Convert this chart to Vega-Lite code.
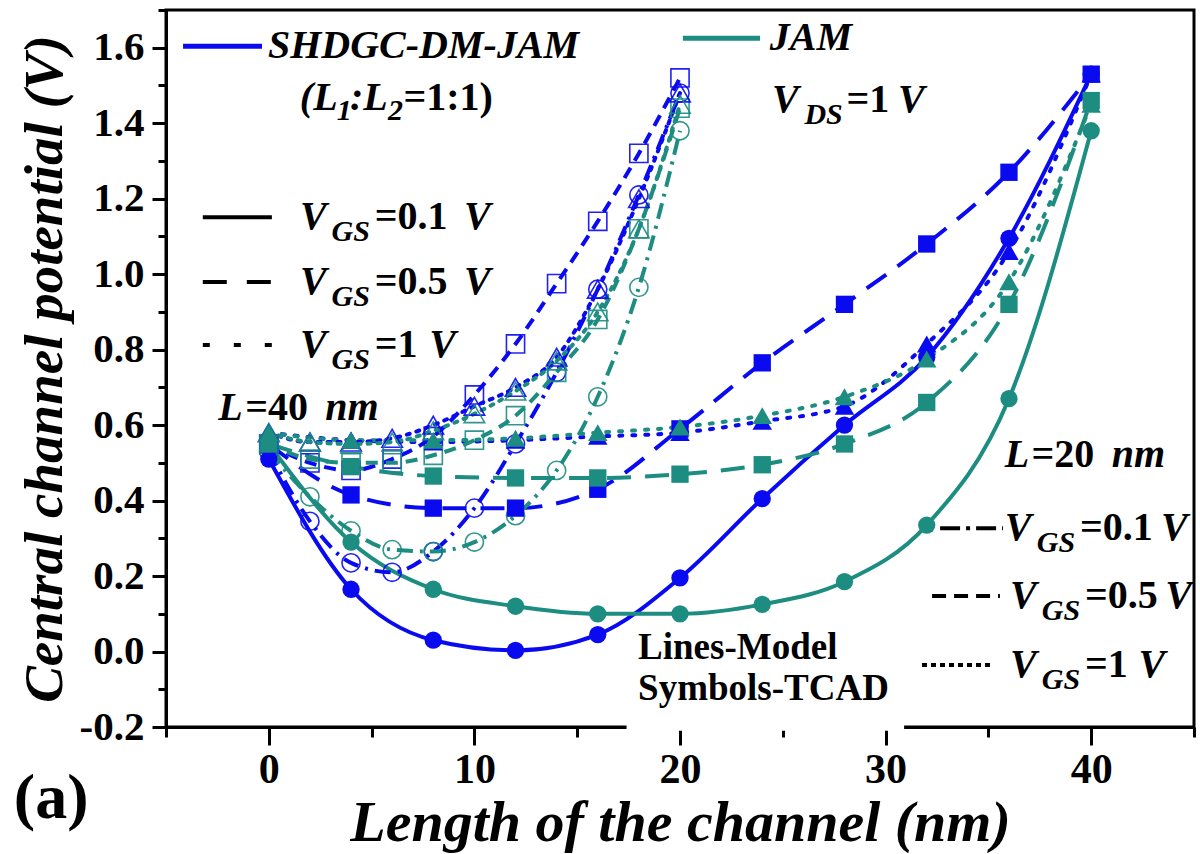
{
"$schema": "https://vega.github.io/schema/vega-lite/v6.json",
"width": 1028, "height": 717,
"autosize": {"type": "none"},
"padding": {"left": 166, "top": 10, "right": 6, "bottom": 127},
"background": "white",
"config": {"view": {"stroke": "#000", "strokeWidth": 3}, "font": "Liberation Serif"},
"datasets": {
"pts": [
{"x":0,"v":0.51,"d":"S","L":40,"g":0.1},{"x":4,"v":0.165,"d":"S","L":40,"g":0.1},{"x":8,"v":0.03,"d":"S","L":40,"g":0.1},{"x":12,"v":0.003,"d":"S","L":40,"g":0.1},{"x":16,"v":0.045,"d":"S","L":40,"g":0.1},{"x":20,"v":0.195,"d":"S","L":40,"g":0.1},{"x":24,"v":0.405,"d":"S","L":40,"g":0.1},{"x":28,"v":0.6,"d":"S","L":40,"g":0.1},{"x":32,"v":0.78,"d":"S","L":40,"g":0.1},{"x":36,"v":1.095,"d":"S","L":40,"g":0.1},{"x":40,"v":1.53,"d":"S","L":40,"g":0.1},
{"x":0,"v":0.55,"d":"J","L":40,"g":0.1},{"x":4,"v":0.29,"d":"J","L":40,"g":0.1},{"x":8,"v":0.165,"d":"J","L":40,"g":0.1},{"x":12,"v":0.12,"d":"J","L":40,"g":0.1},{"x":16,"v":0.1,"d":"J","L":40,"g":0.1},{"x":20,"v":0.1,"d":"J","L":40,"g":0.1},{"x":24,"v":0.125,"d":"J","L":40,"g":0.1},{"x":28,"v":0.185,"d":"J","L":40,"g":0.1},{"x":32,"v":0.335,"d":"J","L":40,"g":0.1},{"x":36,"v":0.67,"d":"J","L":40,"g":0.1},{"x":40,"v":1.38,"d":"J","L":40,"g":0.1},
{"x":0,"v":0.55,"d":"S","L":40,"g":0.5},{"x":4,"v":0.415,"d":"S","L":40,"g":0.5},{"x":8,"v":0.38,"d":"S","L":40,"g":0.5},{"x":12,"v":0.38,"d":"S","L":40,"g":0.5},{"x":16,"v":0.43,"d":"S","L":40,"g":0.5},{"x":20,"v":0.59,"d":"S","L":40,"g":0.5},{"x":24,"v":0.765,"d":"S","L":40,"g":0.5},{"x":28,"v":0.92,"d":"S","L":40,"g":0.5},{"x":32,"v":1.08,"d":"S","L":40,"g":0.5},{"x":36,"v":1.27,"d":"S","L":40,"g":0.5},{"x":40,"v":1.53,"d":"S","L":40,"g":0.5},
{"x":0,"v":0.55,"d":"J","L":40,"g":0.5},{"x":4,"v":0.49,"d":"J","L":40,"g":0.5},{"x":8,"v":0.465,"d":"J","L":40,"g":0.5},{"x":12,"v":0.46,"d":"J","L":40,"g":0.5},{"x":16,"v":0.46,"d":"J","L":40,"g":0.5},{"x":20,"v":0.47,"d":"J","L":40,"g":0.5},{"x":24,"v":0.495,"d":"J","L":40,"g":0.5},{"x":28,"v":0.55,"d":"J","L":40,"g":0.5},{"x":32,"v":0.66,"d":"J","L":40,"g":0.5},{"x":36,"v":0.92,"d":"J","L":40,"g":0.5},{"x":40,"v":1.46,"d":"J","L":40,"g":0.5},
{"x":0,"v":0.58,"d":"S","L":40,"g":1},{"x":4,"v":0.56,"d":"S","L":40,"g":1},{"x":8,"v":0.555,"d":"S","L":40,"g":1},{"x":12,"v":0.56,"d":"S","L":40,"g":1},{"x":16,"v":0.57,"d":"S","L":40,"g":1},{"x":20,"v":0.58,"d":"S","L":40,"g":1},{"x":24,"v":0.61,"d":"S","L":40,"g":1},{"x":28,"v":0.65,"d":"S","L":40,"g":1},{"x":32,"v":0.815,"d":"S","L":40,"g":1},{"x":36,"v":1.06,"d":"S","L":40,"g":1},{"x":40,"v":1.53,"d":"S","L":40,"g":1},
{"x":0,"v":0.58,"d":"J","L":40,"g":1},{"x":4,"v":0.56,"d":"J","L":40,"g":1},{"x":8,"v":0.56,"d":"J","L":40,"g":1},{"x":12,"v":0.565,"d":"J","L":40,"g":1},{"x":16,"v":0.58,"d":"J","L":40,"g":1},{"x":20,"v":0.595,"d":"J","L":40,"g":1},{"x":24,"v":0.625,"d":"J","L":40,"g":1},{"x":28,"v":0.675,"d":"J","L":40,"g":1},{"x":32,"v":0.775,"d":"J","L":40,"g":1},{"x":36,"v":0.98,"d":"J","L":40,"g":1},{"x":40,"v":1.45,"d":"J","L":40,"g":1},
{"x":0,"v":0.53,"d":"S","L":20,"g":0.1},{"x":2,"v":0.345,"d":"S","L":20,"g":0.1},{"x":4,"v":0.235,"d":"S","L":20,"g":0.1},{"x":6,"v":0.21,"d":"S","L":20,"g":0.1},{"x":8,"v":0.265,"d":"S","L":20,"g":0.1},{"x":10,"v":0.38,"d":"S","L":20,"g":0.1},{"x":12,"v":0.55,"d":"S","L":20,"g":0.1},{"x":14,"v":0.74,"d":"S","L":20,"g":0.1},{"x":16,"v":0.96,"d":"S","L":20,"g":0.1},{"x":18,"v":1.21,"d":"S","L":20,"g":0.1},{"x":20,"v":1.48,"d":"S","L":20,"g":0.1},
{"x":0,"v":0.53,"d":"J","L":20,"g":0.1},{"x":2,"v":0.41,"d":"J","L":20,"g":0.1},{"x":4,"v":0.32,"d":"J","L":20,"g":0.1},{"x":6,"v":0.27,"d":"J","L":20,"g":0.1},{"x":8,"v":0.265,"d":"J","L":20,"g":0.1},{"x":10,"v":0.29,"d":"J","L":20,"g":0.1},{"x":12,"v":0.36,"d":"J","L":20,"g":0.1},{"x":14,"v":0.48,"d":"J","L":20,"g":0.1},{"x":16,"v":0.675,"d":"J","L":20,"g":0.1},{"x":18,"v":0.965,"d":"J","L":20,"g":0.1},{"x":20,"v":1.38,"d":"J","L":20,"g":0.1},
{"x":0,"v":0.55,"d":"S","L":20,"g":0.5},{"x":2,"v":0.5,"d":"S","L":20,"g":0.5},{"x":4,"v":0.48,"d":"S","L":20,"g":0.5},{"x":6,"v":0.51,"d":"S","L":20,"g":0.5},{"x":8,"v":0.57,"d":"S","L":20,"g":0.5},{"x":10,"v":0.68,"d":"S","L":20,"g":0.5},{"x":12,"v":0.815,"d":"S","L":20,"g":0.5},{"x":14,"v":0.975,"d":"S","L":20,"g":0.5},{"x":16,"v":1.14,"d":"S","L":20,"g":0.5},{"x":18,"v":1.32,"d":"S","L":20,"g":0.5},{"x":20,"v":1.52,"d":"S","L":20,"g":0.5},
{"x":0,"v":0.55,"d":"J","L":20,"g":0.5},{"x":2,"v":0.51,"d":"J","L":20,"g":0.5},{"x":4,"v":0.5,"d":"J","L":20,"g":0.5},{"x":6,"v":0.5,"d":"J","L":20,"g":0.5},{"x":8,"v":0.52,"d":"J","L":20,"g":0.5},{"x":10,"v":0.56,"d":"J","L":20,"g":0.5},{"x":12,"v":0.625,"d":"J","L":20,"g":0.5},{"x":14,"v":0.74,"d":"J","L":20,"g":0.5},{"x":16,"v":0.88,"d":"J","L":20,"g":0.5},{"x":18,"v":1.12,"d":"J","L":20,"g":0.5},{"x":20,"v":1.44,"d":"J","L":20,"g":0.5},
{"x":0,"v":0.58,"d":"S","L":20,"g":1},{"x":2,"v":0.555,"d":"S","L":20,"g":1},{"x":4,"v":0.555,"d":"S","L":20,"g":1},{"x":6,"v":0.565,"d":"S","L":20,"g":1},{"x":8,"v":0.6,"d":"S","L":20,"g":1},{"x":10,"v":0.65,"d":"S","L":20,"g":1},{"x":12,"v":0.7,"d":"S","L":20,"g":1},{"x":14,"v":0.78,"d":"S","L":20,"g":1},{"x":16,"v":0.96,"d":"S","L":20,"g":1},{"x":18,"v":1.2,"d":"S","L":20,"g":1},{"x":20,"v":1.48,"d":"S","L":20,"g":1},
{"x":0,"v":0.58,"d":"J","L":20,"g":1},{"x":2,"v":0.555,"d":"J","L":20,"g":1},{"x":4,"v":0.55,"d":"J","L":20,"g":1},{"x":6,"v":0.555,"d":"J","L":20,"g":1},{"x":8,"v":0.585,"d":"J","L":20,"g":1},{"x":10,"v":0.63,"d":"J","L":20,"g":1},{"x":12,"v":0.69,"d":"J","L":20,"g":1},{"x":14,"v":0.77,"d":"J","L":20,"g":1},{"x":16,"v":0.9,"d":"J","L":20,"g":1},{"x":18,"v":1.12,"d":"J","L":20,"g":1},{"x":20,"v":1.45,"d":"J","L":20,"g":1}
],
"lg": [
{"x":-4.17,"x2":-0.33,"y":1.604,"k":"blue"},
{"x":20.14,"x2":23.89,"y":1.625,"k":"teal"},
{"x":-3.21,"x2":0.15,"y":1.151,"k":"solid"},
{"x":-3.21,"x2":0.15,"y":0.979,"k":"dash"},
{"x":-3.21,"x2":0.15,"y":0.812,"k":"dot"},
{"x":32.65,"x2":35.71,"y":0.327,"k":"dashdot"},
{"x":32.26,"x2":35.56,"y":0.147,"k":"sdash"},
{"x":31.77,"x2":35.08,"y":-0.036,"k":"sdot"}
],
"box": [{"x":17.4,"x2":30.9,"y":0.075,"y2":-0.21}],
"tx": [
{"x":-0.04,"y":1.604,"t":"SHDGC-DM-JAM","f":"bi"},
{"x":1.51,"y":1.467,"t":"(L","f":"bi"},
{"x":3.3,"y":1.432,"t":"1","f":"sub"},
{"x":3.95,"y":1.467,"t":":L","f":"bi"},
{"x":5.8,"y":1.432,"t":"2","f":"sub"},
{"x":6.55,"y":1.467,"t":"=1:1)","f":"b"},
{"x":24.37,"y":1.625,"t":"JAM","f":"bi"},
{"x":24.47,"y":1.461,"t":"V","f":"bi"},
{"x":26.05,"y":1.421,"t":"DS","f":"sub"},
{"x":28.1,"y":1.461,"t":"=1","f":"b"},
{"x":30.6,"y":1.461,"t":"V","f":"bi"},
{"x":1.52,"y":1.151,"t":"V","f":"bi"},
{"x":3.05,"y":1.111,"t":"GS","f":"sub"},
{"x":5.15,"y":1.151,"t":"=0.1","f":"b"},
{"x":9.5,"y":1.151,"t":"V","f":"bi"},
{"x":1.52,"y":0.979,"t":"V","f":"bi"},
{"x":3.05,"y":0.939,"t":"GS","f":"sub"},
{"x":5.15,"y":0.979,"t":"=0.5","f":"b"},
{"x":9.5,"y":0.979,"t":"V","f":"bi"},
{"x":1.52,"y":0.812,"t":"V","f":"bi"},
{"x":3.05,"y":0.772,"t":"GS","f":"sub"},
{"x":5.15,"y":0.812,"t":"=1","f":"b"},
{"x":7.8,"y":0.812,"t":"V","f":"bi"},
{"x":-2.46,"y":0.645,"t":"L","f":"bi"},
{"x":-1.15,"y":0.645,"t":"=40","f":"b"},
{"x":2.75,"y":0.645,"t":"nm","f":"bi"},
{"x":35.8,"y":0.521,"t":"L","f":"bi"},
{"x":37.1,"y":0.521,"t":"=20","f":"b"},
{"x":41.0,"y":0.521,"t":"nm","f":"bi"},
{"x":35.8,"y":0.327,"t":"V","f":"bi"},
{"x":37.35,"y":0.287,"t":"GS","f":"sub"},
{"x":39.45,"y":0.327,"t":"=0.1","f":"b"},
{"x":43.4,"y":0.327,"t":"V","f":"bi"},
{"x":36.05,"y":0.147,"t":"V","f":"bi"},
{"x":37.6,"y":0.107,"t":"GS","f":"sub"},
{"x":39.7,"y":0.147,"t":"=0.5","f":"b"},
{"x":43.6,"y":0.147,"t":"V","f":"bi"},
{"x":36.05,"y":-0.036,"t":"V","f":"bi"},
{"x":37.6,"y":-0.076,"t":"GS","f":"sub"},
{"x":39.7,"y":-0.036,"t":"=1","f":"b"},
{"x":42.3,"y":-0.036,"t":"V","f":"bi"},
{"x":17.96,"y":0.01,"t":"Lines-Model","f":"bs"},
{"x":17.96,"y":-0.1,"t":"Symbols-TCAD","f":"bs"},
{"x":-12.4,"y":-0.39,"t":"(a)","f":"a"}
]
},
"layer": [
{"data":{"name":"pts"},"transform":[{"filter":"datum.L==40 && datum.g==0.1"}],
 "mark":{"type":"line","interpolate":"monotone","strokeWidth":4},
 "encoding":{
  "x":{"field":"x","type":"quantitative","scale":{"domain":[-5,45],"nice":false,"zero":false},
   "axis":{"orient":"bottom","values":[0,10,20,30,40],"format":"d","tickSize":18,"tickWidth":3,"tickColor":"#000","domainColor":"#000","domainWidth":3,"grid":false,
    "labelFont":"Liberation Serif","labelFontWeight":"bold","labelFontSize":42,"labelColor":"#000","labelPadding":4,
    "title":"Length of the channel (nm)","titleFont":"Liberation Serif","titleFontWeight":"bold","titleFontStyle":"italic","titleFontSize":58,"titleColor":"#000","titlePadding":4}},
  "y":{"field":"v","type":"quantitative","scale":{"domain":[-0.2,1.7],"nice":false,"zero":false},
   "axis":{"orient":"left","values":[-0.2,0,0.2,0.4,0.6,0.8,1.0,1.2,1.4,1.6],"labelExpr":"replace(format(datum.value,'.1f'),'\u2212','-')","tickSize":14,"tickWidth":3,"tickColor":"#000","domainColor":"#000","domainWidth":3,"grid":false,
    "labelFont":"Liberation Serif","labelFontWeight":"bold","labelFontSize":41,"labelColor":"#000","labelPadding":8,
    "title":"Central channel potential (V)","titleFont":"Liberation Serif","titleFontWeight":"bold","titleFontStyle":"italic","titleFontSize":55,"titleColor":"#000","titlePadding":6}},
  "color":{"field":"d","type":"nominal","scale":{"domain":["S","J"],"range":["#0a0af0","#1d8c81"]},"legend":null},
  "detail":{"field":"d"}}},
{"data":{"name":"pts"},"transform":[{"filter":"datum.L==40 && datum.g==0.5"}],
 "mark":{"type":"line","interpolate":"monotone","strokeWidth":4,"strokeDash":[24,14]},
 "encoding":{
  "x":{"field":"x","type":"quantitative","scale":{"domain":[-5,45],"nice":false,"zero":false},
   "axis":{"orient":"bottom","values":[-5,5,15,25,35,45],"tickSize":10,"tickWidth":3,"tickColor":"#000","labels":false,"domain":false,"grid":false,"title":null}},
  "y":{"field":"v","type":"quantitative","scale":{"domain":[-0.2,1.7],"nice":false,"zero":false},
   "axis":{"orient":"left","values":[-0.1,0.1,0.3,0.5,0.7,0.9,1.1,1.3,1.5,1.7],"tickSize":8,"tickWidth":3,"tickColor":"#000","labels":false,"domain":false,"grid":false,"title":null}},
  "color":{"field":"d","type":"nominal","scale":{"domain":["S","J"],"range":["#0a0af0","#1d8c81"]},"legend":null},
  "detail":{"field":"d"}}},
{"data":{"name":"pts"},"transform":[{"filter":"datum.L==40 && datum.g==1"}],
 "mark":{"type":"line","interpolate":"monotone","strokeWidth":4,"strokeDash":[3,10],"strokeCap":"round"},
 "encoding":{"x":{"field":"x","type":"quantitative","axis":null},"y":{"field":"v","type":"quantitative","axis":null},
  "color":{"field":"d","type":"nominal","legend":null},"detail":{"field":"d"}}},
{"data":{"name":"pts"},"transform":[{"filter":"datum.L==20 && datum.g==0.1"}],
 "mark":{"type":"line","interpolate":"monotone","strokeWidth":4,"strokeDash":[16,7,3,7]},
 "encoding":{"x":{"field":"x","type":"quantitative","axis":null},"y":{"field":"v","type":"quantitative","axis":null},
  "color":{"field":"d","type":"nominal","legend":null},"detail":{"field":"d"}}},
{"data":{"name":"pts"},"transform":[{"filter":"datum.L==20 && datum.g==0.5"}],
 "mark":{"type":"line","interpolate":"monotone","strokeWidth":4,"strokeDash":[12,8]},
 "encoding":{"x":{"field":"x","type":"quantitative","axis":null},"y":{"field":"v","type":"quantitative","axis":null},
  "color":{"field":"d","type":"nominal","legend":null},"detail":{"field":"d"}}},
{"data":{"name":"pts"},"transform":[{"filter":"datum.L==20 && datum.g==1"}],
 "mark":{"type":"line","interpolate":"monotone","strokeWidth":4,"strokeDash":[3,7],"strokeCap":"round"},
 "encoding":{"x":{"field":"x","type":"quantitative","axis":null},"y":{"field":"v","type":"quantitative","axis":null},
  "color":{"field":"d","type":"nominal","legend":null},"detail":{"field":"d"}}},
{"data":{"name":"pts"},"transform":[{"filter":"datum.L==20 && datum.g==0.1"}],
 "mark":{"type":"point","shape":"circle","filled":false,"size":330,"strokeWidth":1.6,"opacity":0.9},
 "encoding":{"x":{"field":"x","type":"quantitative","axis":null},"y":{"field":"v","type":"quantitative","axis":null},
  "color":{"field":"d","type":"nominal","legend":null}}},
{"data":{"name":"pts"},"transform":[{"filter":"datum.L==20 && datum.g==0.5"}],
 "mark":{"type":"point","shape":"square","filled":false,"size":330,"strokeWidth":1.6,"opacity":0.9},
 "encoding":{"x":{"field":"x","type":"quantitative","axis":null},"y":{"field":"v","type":"quantitative","axis":null},
  "color":{"field":"d","type":"nominal","legend":null}}},
{"data":{"name":"pts"},"transform":[{"filter":"datum.L==20 && datum.g==1"}],
 "mark":{"type":"point","shape":"triangle-up","filled":false,"size":420,"strokeWidth":1.6,"opacity":0.9},
 "encoding":{"x":{"field":"x","type":"quantitative","axis":null},"y":{"field":"v","type":"quantitative","axis":null},
  "color":{"field":"d","type":"nominal","legend":null}}},
{"data":{"name":"pts"},"transform":[{"filter":"datum.L==40 && datum.g==0.1"}],
 "mark":{"type":"point","shape":"circle","filled":true,"size":300,"opacity":1},
 "encoding":{"x":{"field":"x","type":"quantitative","axis":null},"y":{"field":"v","type":"quantitative","axis":null},
  "color":{"field":"d","type":"nominal","legend":null}}},
{"data":{"name":"pts"},"transform":[{"filter":"datum.L==40 && datum.g==0.5"}],
 "mark":{"type":"point","shape":"square","filled":true,"size":300,"opacity":1},
 "encoding":{"x":{"field":"x","type":"quantitative","axis":null},"y":{"field":"v","type":"quantitative","axis":null},
  "color":{"field":"d","type":"nominal","legend":null}}},
{"data":{"name":"pts"},"transform":[{"filter":"datum.L==40 && datum.g==1"}],
 "mark":{"type":"point","shape":"triangle-up","filled":true,"size":380,"opacity":1},
 "encoding":{"x":{"field":"x","type":"quantitative","axis":null},"y":{"field":"v","type":"quantitative","axis":null},
  "color":{"field":"d","type":"nominal","legend":null}}},
{"data":{"name":"box"},"mark":{"type":"rect","fill":"white"},
 "encoding":{"x":{"field":"x","type":"quantitative","axis":null},"x2":{"field":"x2"},"y":{"field":"y","type":"quantitative","axis":null},"y2":{"field":"y2"}}},
{"data":{"name":"lg"},"transform":[{"filter":"datum.k=='blue'"}],"mark":{"type":"rule","stroke":"#0a0af0","strokeWidth":5},
 "encoding":{"x":{"field":"x","type":"quantitative","axis":null},"x2":{"field":"x2"},"y":{"field":"y","type":"quantitative","axis":null}}},
{"data":{"name":"lg"},"transform":[{"filter":"datum.k=='teal'"}],"mark":{"type":"rule","stroke":"#1d8c81","strokeWidth":5},
 "encoding":{"x":{"field":"x","type":"quantitative","axis":null},"x2":{"field":"x2"},"y":{"field":"y","type":"quantitative","axis":null}}},
{"data":{"name":"lg"},"transform":[{"filter":"datum.k=='solid'"}],"mark":{"type":"rule","stroke":"#000","strokeWidth":4},
 "encoding":{"x":{"field":"x","type":"quantitative","axis":null},"x2":{"field":"x2"},"y":{"field":"y","type":"quantitative","axis":null}}},
{"data":{"name":"lg"},"transform":[{"filter":"datum.k=='dash'"}],"mark":{"type":"rule","stroke":"#000","strokeWidth":4,"strokeDash":[24,20]},
 "encoding":{"x":{"field":"x","type":"quantitative","axis":null},"x2":{"field":"x2"},"y":{"field":"y","type":"quantitative","axis":null}}},
{"data":{"name":"lg"},"transform":[{"filter":"datum.k=='dot'"}],"mark":{"type":"rule","stroke":"#000","strokeWidth":4,"strokeDash":[7,24]},
 "encoding":{"x":{"field":"x","type":"quantitative","axis":null},"x2":{"field":"x2"},"y":{"field":"y","type":"quantitative","axis":null}}},
{"data":{"name":"lg"},"transform":[{"filter":"datum.k=='dashdot'"}],"mark":{"type":"rule","stroke":"#000","strokeWidth":4,"strokeDash":[20,6,4,6]},
 "encoding":{"x":{"field":"x","type":"quantitative","axis":null},"x2":{"field":"x2"},"y":{"field":"y","type":"quantitative","axis":null}}},
{"data":{"name":"lg"},"transform":[{"filter":"datum.k=='sdash'"}],"mark":{"type":"rule","stroke":"#000","strokeWidth":4,"strokeDash":[14,8]},
 "encoding":{"x":{"field":"x","type":"quantitative","axis":null},"x2":{"field":"x2"},"y":{"field":"y","type":"quantitative","axis":null}}},
{"data":{"name":"lg"},"transform":[{"filter":"datum.k=='sdot'"}],"mark":{"type":"rule","stroke":"#000","strokeWidth":4,"strokeDash":[5,4]},
 "encoding":{"x":{"field":"x","type":"quantitative","axis":null},"x2":{"field":"x2"},"y":{"field":"y","type":"quantitative","axis":null}}},
{"data":{"name":"tx"},"transform":[{"filter":"datum.f=='bi'"}],
 "mark":{"type":"text","align":"left","baseline":"middle","font":"Liberation Serif","fontWeight":"bold","fontStyle":"italic","fontSize":40,"color":"#000"},
 "encoding":{"x":{"field":"x","type":"quantitative","axis":null},"y":{"field":"y","type":"quantitative","axis":null},"text":{"field":"t"}}},
{"data":{"name":"tx"},"transform":[{"filter":"datum.f=='sub'"}],
 "mark":{"type":"text","align":"left","baseline":"middle","font":"Liberation Serif","fontWeight":"bold","fontStyle":"italic","fontSize":30,"color":"#000"},
 "encoding":{"x":{"field":"x","type":"quantitative","axis":null},"y":{"field":"y","type":"quantitative","axis":null},"text":{"field":"t"}}},
{"data":{"name":"tx"},"transform":[{"filter":"datum.f=='b'"}],
 "mark":{"type":"text","align":"left","baseline":"middle","font":"Liberation Serif","fontWeight":"bold","fontSize":40,"color":"#000"},
 "encoding":{"x":{"field":"x","type":"quantitative","axis":null},"y":{"field":"y","type":"quantitative","axis":null},"text":{"field":"t"}}},
{"data":{"name":"tx"},"transform":[{"filter":"datum.f=='bs'"}],
 "mark":{"type":"text","align":"left","baseline":"middle","font":"Liberation Serif","fontWeight":"bold","fontSize":37,"color":"#000"},
 "encoding":{"x":{"field":"x","type":"quantitative","axis":null},"y":{"field":"y","type":"quantitative","axis":null},"text":{"field":"t"}}},
{"data":{"name":"tx"},"transform":[{"filter":"datum.f=='a'"}],
 "mark":{"type":"text","align":"left","baseline":"middle","font":"Liberation Serif","fontWeight":"bold","fontSize":64,"color":"#000"},
 "encoding":{"x":{"field":"x","type":"quantitative","axis":null},"y":{"field":"y","type":"quantitative","axis":null},"text":{"field":"t"}}}
],
"resolve":{"axis":{"x":"independent","y":"independent"}}
}
